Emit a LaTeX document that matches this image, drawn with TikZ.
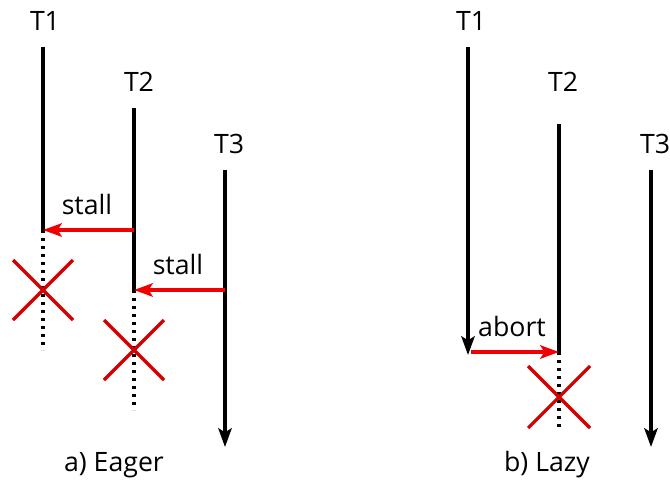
\documentclass[tikz,border=0pt]{standalone}
\usepackage{fontspec}
\setmainfont{Open Sans}
\usetikzlibrary{arrows.meta}

\definecolor{arrowred}{RGB}{240,0,0}
\definecolor{crossred}{RGB}{210,0,0}

\tikzstyle{txt} = [inner sep=0pt, font=\fontsize{20}{24}\selectfont]
\tikzstyle{thread} = [line width=2.6pt, black]
\tikzstyle{threadarrow} = [line width=2.6pt, black, -{Stealth[length=14pt,width=10pt,inset=3pt]}]
\tikzstyle{dead} = [line width=2.6pt, black, dash pattern=on 2.6pt off 3.4pt]
\tikzstyle{conflict} = [line width=2.6pt, arrowred, -{Stealth[length=14pt,width=10pt,inset=3pt]}]
\tikzstyle{cross} = [line width=2.4pt, crossred]

\begin{document}
\begin{tikzpicture}[x=0.75pt, y=-0.75pt]
\useasboundingbox (0,0) rectangle (670,485);

% Define nodes (a) Eager
\node (aT1) [txt] at (45,21) {T1};
\node (aT2) [txt] at (139,82) {T2};
\node (aT3) [txt] at (229,144) {T3};
\coordinate (a1top) at (43,47);
\coordinate (a1stall) at (43,230);
\coordinate (a1end) at (43,350);
\coordinate (a2top) at (134,108);
\coordinate (a2stall) at (134,290);
\coordinate (a2end) at (134,410);
\coordinate (a3top) at (225,170);
\coordinate (a3from) at (225,290);
\coordinate (a3end) at (225,447);
\coordinate (a2from) at (134,230);
\node (stallA) [txt] at (87,204) {stall};
\node (stallB) [txt] at (178,264) {stall};
\node (eager) [txt] at (114,465) {a) Eager};

% Draw arrows (a) Eager
\draw [thread] (a1top) -- (a1stall);
\draw [dead] (a1stall) -- (a1end);
\draw [thread] (a2top) -- (a2stall);
\draw [dead] (a2stall) -- (a2end);
\draw [threadarrow] (a3top) -- (a3end);
\draw [conflict] (a2from) -- (a1stall);
\draw [conflict] (a3from) -- (a2stall);
\draw [cross] (13,260) -- (73,320) (13,320) -- (73,260);
\draw [cross] (104,320) -- (164,380) (104,380) -- (164,320);

% Define nodes (b) Lazy
\node (bT1) [txt] at (471,21) {T1};
\node (bT2) [txt] at (563,82) {T2};
\node (bT3) [txt] at (655,144) {T3};
\coordinate (b1top) at (468,47);
\coordinate (b1end) at (468,355);
\coordinate (b1from) at (471,352);
\coordinate (b2top) at (559,124);
\coordinate (b2abort) at (559,352);
\coordinate (b2end) at (559,427);
\coordinate (b3top) at (651,170);
\coordinate (b3end) at (651,447);
\node (abort) [txt] at (512,326) {abort};
\node (lazy) [txt] at (547,465) {b) Lazy};

% Draw arrows (b) Lazy
\draw [threadarrow] (b1top) -- (b1end);
\draw [thread] (b2top) -- (b2abort);
\draw [dead] (b2abort) -- (b2end);
\draw [threadarrow] (b3top) -- (b3end);
\draw [conflict] (b1from) -- (b2abort);
\draw [cross] (528,366) -- (590,428) (528,428) -- (590,366);

\end{tikzpicture}
\end{document}
